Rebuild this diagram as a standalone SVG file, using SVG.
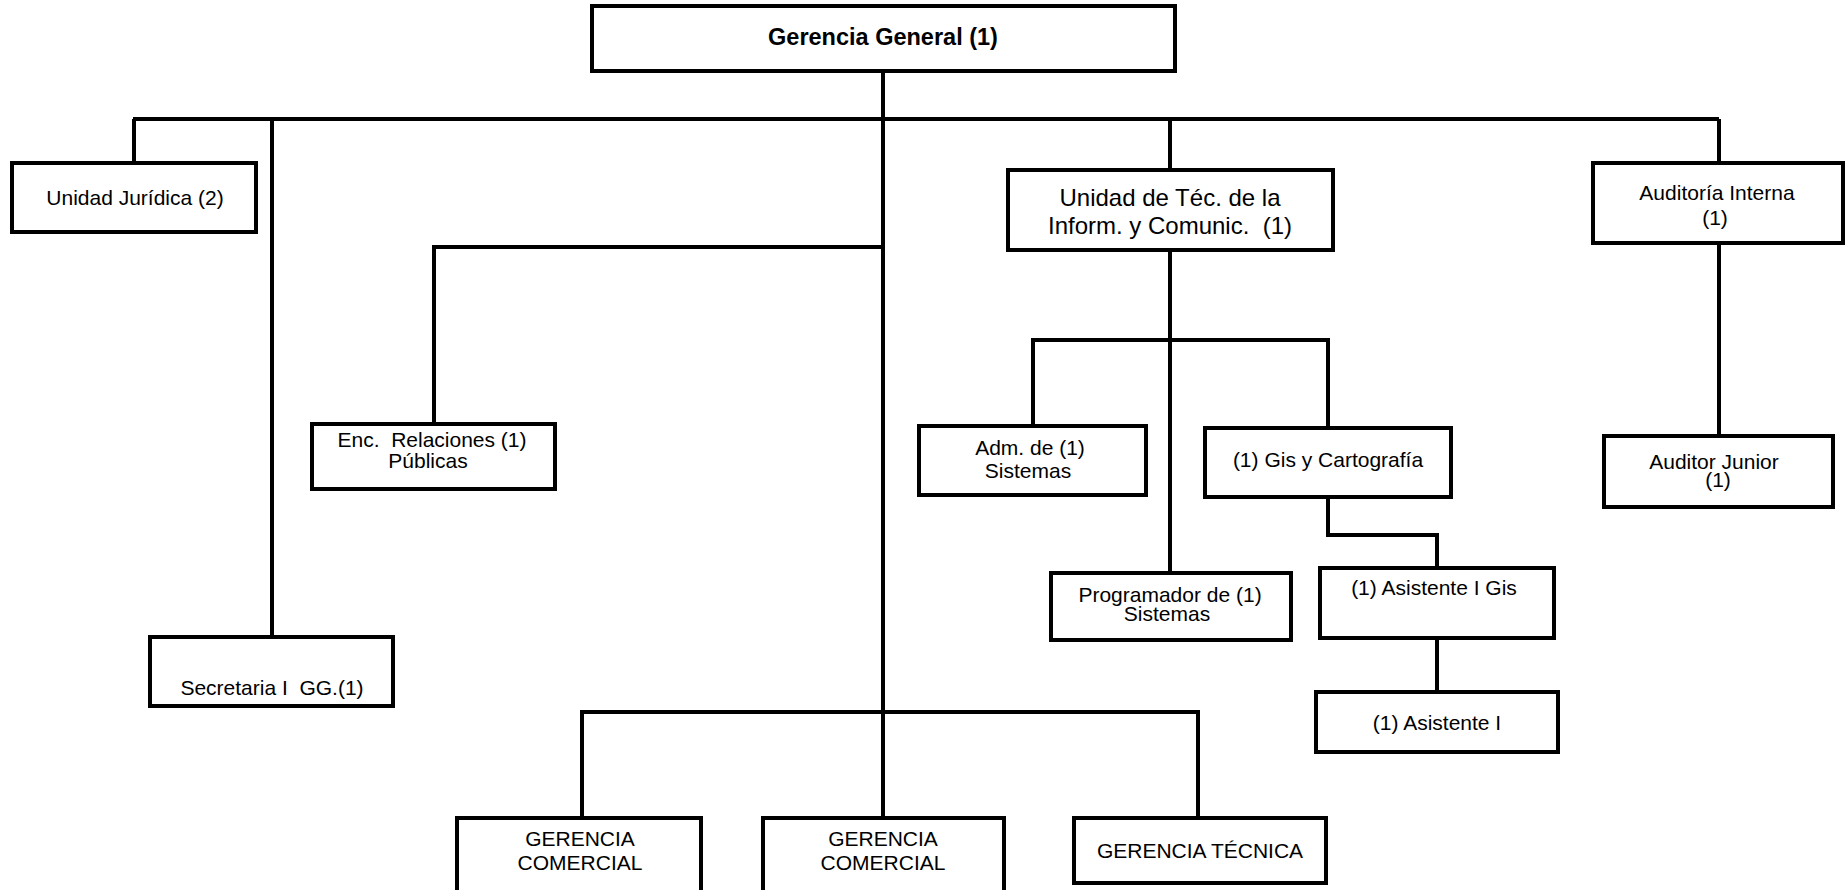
<svg xmlns="http://www.w3.org/2000/svg" width="1845" height="890" viewBox="0 0 1845 890">
<style>
.box{fill:#fff;stroke:#000;stroke-width:4}
.ln{fill:none;stroke:#000;stroke-width:4}
text{font-family:"Liberation Sans",Arial,sans-serif;font-size:21px;fill:#000;text-anchor:middle}
.b{font-weight:bold;font-size:23.5px}
.big{font-size:24px}
</style>
<rect width="1845" height="890" fill="#fff"/>
<g id="connectors">
<path class="ln" d="M883 71V712"/>
<path class="ln" d="M133 119H1719"/>
<path class="ln" d="M134 119V163"/>
<path class="ln" d="M272 119V637"/>
<path class="ln" d="M1170 119V170"/>
<path class="ln" d="M1719 119V163"/>
<path class="ln" d="M883 247H434V424"/>
<path class="ln" d="M1170 250V573"/>
<path class="ln" d="M1033 426V340H1328V428"/>
<path class="ln" d="M1328 497V535H1437V568"/>
<path class="ln" d="M1437 638V692"/>
<path class="ln" d="M1719 243V436"/>
<path class="ln" d="M582 818V712H1198V818"/>
<path class="ln" d="M883 712V818"/>
</g>
<g id="gerencia-general"><rect class="box" x="592" y="6" width="583" height="65"/><text class="b" x="883" y="45">Gerencia General (1)</text></g>
<g id="unidad-juridica"><rect class="box" x="12" y="163" width="244" height="69"/><text x="135" y="205">Unidad Jurídica (2)</text></g>
<g id="utic"><rect class="box" x="1008" y="170" width="325" height="80"/><text class="big" x="1170" y="206">Unidad de Téc. de la</text><text class="big" x="1170" y="234" xml:space="preserve">Inform. y Comunic.  (1)</text></g>
<g id="auditoria-interna"><rect class="box" x="1593" y="163" width="250" height="80"/><text x="1717" y="200">Auditoría Interna</text><text x="1715" y="225">(1)</text></g>
<g id="enc-relaciones"><rect class="box" x="312" y="424" width="243" height="65"/><text x="432" y="447" xml:space="preserve">Enc.  Relaciones (1)</text><text x="428" y="468">Públicas</text></g>
<g id="adm-sistemas"><rect class="box" x="919" y="426" width="227" height="69"/><text x="1030" y="455">Adm. de (1)</text><text x="1028" y="478">Sistemas</text></g>
<g id="gis"><rect class="box" x="1205" y="428" width="246" height="69"/><text x="1328" y="467">(1) Gis y Cartografía</text></g>
<g id="auditor-junior"><rect class="box" x="1604" y="436" width="229" height="71"/><text x="1714" y="469">Auditor Junior</text><text x="1718" y="487">(1)</text></g>
<g id="programador"><rect class="box" x="1051" y="573" width="240" height="67"/><text x="1170" y="602">Programador de (1)</text><text x="1167" y="621">Sistemas</text></g>
<g id="asistente-gis"><rect class="box" x="1320" y="568" width="234" height="70"/><text x="1434" y="595">(1) Asistente I Gis</text></g>
<g id="asistente"><rect class="box" x="1316" y="692" width="242" height="60"/><text x="1437" y="730">(1) Asistente I</text></g>
<g id="secretaria"><rect class="box" x="150" y="637" width="243" height="69"/><text x="272" y="695" xml:space="preserve">Secretaria I  GG.(1)</text></g>
<g id="gerencia-comercial-1"><rect class="box" x="457" y="818" width="244" height="80"/><text x="580" y="846">GERENCIA</text><text x="580" y="870">COMERCIAL</text></g>
<g id="gerencia-comercial-2"><rect class="box" x="763" y="818" width="241" height="80"/><text x="883" y="846">GERENCIA</text><text x="883" y="870">COMERCIAL</text></g>
<g id="gerencia-tecnica"><rect class="box" x="1074" y="818" width="252" height="65"/><text x="1200" y="858">GERENCIA TÉCNICA</text></g>
</svg>
